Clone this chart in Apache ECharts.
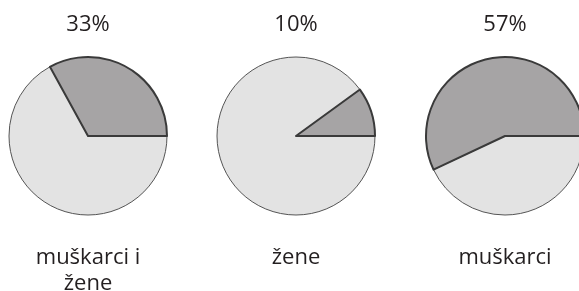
<!DOCTYPE html>
<html>
<head>
<meta charset="utf-8">
<script src="https://cdn.jsdelivr.net/npm/echarts@6/dist/echarts.min.js"></script>
<style>
  html, body { margin: 0; padding: 0; background: #fff; }
  #chart { width: 579px; height: 291px; }
</style>
</head>
<body>
<div id="chart"></div>
<script>
// share of each group (dark slice), remainder is the light slice
const groups = ['muškarci i\nžene', 'žene', 'muškarci'];
const shares = [33, 10, 57];
const rest = [67, 90, 43];
const centersX = [88, 296, 505];

const font = '"Open Sans", "Noto Sans", sans-serif';
const textColor = '#231f20';

const chart = echarts.init(document.getElementById('chart'), null, { renderer: 'canvas' });

const titles = [];
const series = [];
groups.forEach((g, i) => {
    titles.push({
        text: shares[i] + '%',
        left: centersX[i],
        top: 14,
        padding: 0,
        textAlign: 'center',
        textStyle: { fontFamily: font, fontSize: 22, fontWeight: 'normal', color: textColor },
    });
    titles.push({
        text: g,
        left: centersX[i],
        top: 245,
        padding: 0,
        textAlign: 'center',
        textStyle: { fontFamily: font, fontSize: 22, fontWeight: 'normal', color: textColor, lineHeight: 26 },
    });
    // light slice first so the dark slice's border sits on top
    series.push({
        type: 'pie',
        center: [centersX[i], 136],
        radius: 79,
        startAngle: 0,
        clockwise: true,
        silent: true,
        label: { show: false },
        labelLine: { show: false },
        emphasis: { disabled: true },
        data: [
            { value: rest[i], itemStyle: { color: '#e3e3e3', borderColor: '#555', borderWidth: 1 } },
            { value: shares[i], itemStyle: { color: '#a6a4a5', borderColor: '#3a3a3a', borderWidth: 2 } },
        ],
    });
});

chart.setOption({
    animation: false,
    backgroundColor: '#fff',
    title: titles,
    series,
});
</script>
</body>
</html>
